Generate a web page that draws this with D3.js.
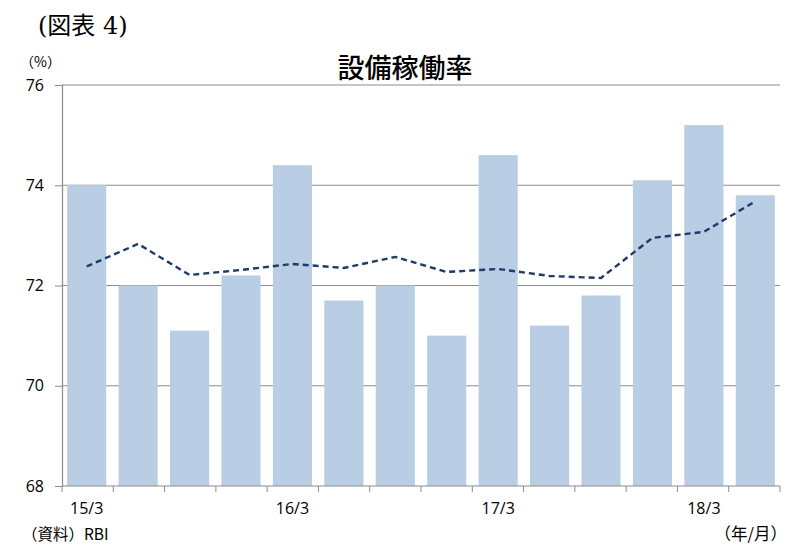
<!DOCTYPE html>
<html><head><meta charset="utf-8">
<script src="https://cdn.jsdelivr.net/npm/d3@7"></script>
<style>body{margin:0;background:#fff}</style></head>
<body><svg id="c" width="806" height="553"></svg>
<script>
const categories = ["15/3","15/6","15/9","15/12","16/3","16/6","16/9","16/12","17/3","17/6","17/9","17/12","18/3","18/6"];
const barValues = [74.0,72.0,71.1,72.2,74.4,71.7,72.0,71.0,74.6,71.2,71.8,74.1,75.2,73.8];
const lineValues = [72.38,72.83,72.21,72.31,72.43,72.35,72.57,72.27,72.33,72.19,72.15,72.95,73.07,73.68];
const yTicks = [68,70,72,74,76];
const xLabels = ["15/3","16/3","17/3","18/3"];

const svg = d3.select("#c");
const m = {l:62, r:780, t:85, b:486};
const x = d3.scaleBand().domain(categories).range([m.l, m.r]).paddingInner(0.24).paddingOuter(0.1);
const y = d3.scaleLinear().domain([68,76]).range([m.b, m.t]);
const jp = "'Noto Sans CJK JP', sans-serif";
const lat = "'Open Sans','Liberation Sans',sans-serif";

// gridlines
svg.append("g").selectAll("line").data(yTicks.filter(d=>d>68)).join("line")
  .attr("x1", m.l).attr("x2", m.r).attr("y1", d=>y(d)).attr("y2", d=>y(d))
  .attr("stroke","#8c8c8c").attr("stroke-width",1.2);

// bars
svg.append("g").selectAll("rect").data(barValues).join("rect")
  .attr("x",(d,i)=>x(categories[i])).attr("width",x.bandwidth())
  .attr("y",d=>y(d)).attr("height",d=>y(68)-y(d)).attr("fill","#b9cde5");

// line
const line = d3.line().x((d,i)=>x(categories[i])+x.bandwidth()/2).y(d=>y(d));
svg.append("path").datum(lineValues).attr("d",line).attr("fill","none")
  .attr("stroke","#1f3b66").attr("stroke-width",2.4).attr("stroke-dasharray","6,4");

// y axis
const ya = svg.append("g").attr("transform",`translate(${m.l},0)`)
  .call(d3.axisLeft(y).tickValues(yTicks).tickSize(7).tickPadding(11).tickFormat(d3.format("d")));
ya.select(".domain").attr("stroke","#8c8c8c").attr("stroke-width",1.2);
ya.selectAll(".tick line").attr("stroke","#8c8c8c");
ya.selectAll("text").attr("font-family",lat).attr("font-size",16).attr("fill","#000");

// x axis
const bounds = d3.range(categories.length+1).map(i=>m.l+i*(m.r-m.l)/categories.length);
svg.append("line").attr("x1",m.l).attr("x2",m.r).attr("y1",m.b).attr("y2",m.b).attr("stroke","#8c8c8c").attr("stroke-width",1.2);
svg.append("g").selectAll("line").data(bounds).join("line")
  .attr("x1",d=>d).attr("x2",d=>d).attr("y1",m.b).attr("y2",m.b+6).attr("stroke","#8c8c8c");
svg.append("g").selectAll("text").data(xLabels).join("text")
  .attr("x",d=>x(d)+x.bandwidth()/2).attr("y",514).attr("text-anchor","middle")
  .attr("font-family",lat).attr("font-size",16).text(d=>d);

// texts
svg.append("text").attr("x",38).attr("y",34).attr("font-family","'DejaVu Serif','Noto Sans CJK JP',serif").attr("font-size",24).text("(図表 4)");
svg.append("text").attr("x",405).attr("y",78).attr("text-anchor","middle").attr("font-family",jp).attr("font-weight",500).attr("font-size",27).text("設備稼働率");
svg.append("text").attr("x",20).attr("y",67).attr("font-family",jp).attr("font-size",14).text("（%）");
svg.append("text").attr("x",22).attr("y",540).attr("font-family",jp).attr("font-size",15.5).text("（資料）RBI");
svg.append("text").attr("x",787).attr("y",540).attr("text-anchor","end").attr("font-family",jp).attr("font-size",16.5).text("（年/月）");
</script></body></html>
